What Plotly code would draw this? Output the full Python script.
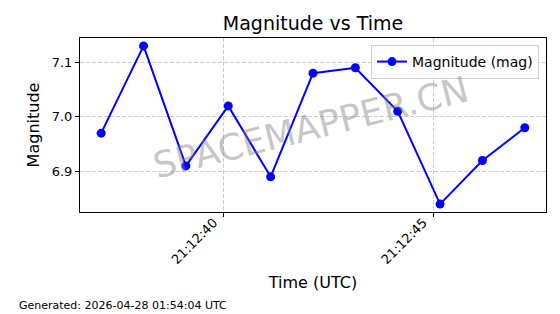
import pandas as pd
import plotly.graph_objects as go

times = ["2026-04-27 21:12:37.08", "2026-04-27 21:12:38.09", "2026-04-27 21:12:39.10",
         "2026-04-27 21:12:40.11", "2026-04-27 21:12:41.12", "2026-04-27 21:12:42.13",
         "2026-04-27 21:12:43.14", "2026-04-27 21:12:44.15", "2026-04-27 21:12:45.16",
         "2026-04-27 21:12:46.17", "2026-04-27 21:12:47.18"]
magnitudes = [6.97, 7.13, 6.91, 7.02, 6.89, 7.08, 7.09, 7.01, 6.84, 6.92, 6.98]
x_ticks = ["2026-04-27 21:12:40", "2026-04-27 21:12:45"]
x_tick_labels = ["21:12:40", "21:12:45"]
y_ticks = [6.9, 7.0, 7.1]
y_tick_labels = ["6.9", "7.0", "7.1"]

t = pd.to_datetime(times)
span = t.max() - t.min()
xr = [t.min() - span * 0.05, t.max() + span * 0.05]
ymin, ymax = min(magnitudes), max(magnitudes)
yr = [ymin - (ymax - ymin) * 0.05, ymax + (ymax - ymin) * 0.05]

FONT = "DejaVu Sans"
L, R, T, B = 80, 546, 38, 212  # plot area in pixels
PW, PH = R - L, B - T

fig = go.Figure()
fig.add_trace(go.Scatter(
    x=t, y=magnitudes, mode="lines+markers", name="Magnitude (mag)",
    line=dict(color="#0000ff", width=2),
    marker=dict(color="#0000ff", size=9),
))

fig.update_layout(
    width=560, height=314,
    margin=dict(l=L, r=560 - R, t=T, b=314 - B),
    paper_bgcolor="white", plot_bgcolor="white",
    font=dict(family=FONT, color="black", size=13),
    title=dict(text="Magnitude vs Time", x=(L + R) / 2 / 560, xanchor="center",
               y=1 - 23 / 314, yanchor="middle", font=dict(size=19, family=FONT)),
    showlegend=True,
    legend=dict(x=0.985, y=0.96, xanchor="right", yanchor="top", itemwidth=30,
                bgcolor="rgba(255,255,255,0.8)", bordercolor="#cccccc", borderwidth=1,
                font=dict(size=14, family=FONT)),
    xaxis=dict(
        type="date", range=xr, tickvals=pd.to_datetime(x_ticks), ticktext=x_tick_labels,
        tickangle=-45, ticks="outside", ticklen=4, tickcolor="black",
        ticklabelshift=-10, ticklabelstandoff=-7,
        showline=True, linecolor="black", linewidth=1, mirror=True,
        showgrid=True, gridcolor="#cccccc", griddash="4px,2px", gridwidth=1,
        zeroline=False, tickfont=dict(size=13),
        title=dict(text="Time (UTC)", font=dict(size=16), standoff=10),
    ),
    yaxis=dict(
        range=yr, tickvals=y_ticks, ticktext=y_tick_labels,
        ticks="outside", ticklen=4, tickcolor="black",
        showline=True, linecolor="black", linewidth=1, mirror=True,
        showgrid=True, gridcolor="#cccccc", griddash="4px,2px", gridwidth=1,
        zeroline=False, tickfont=dict(size=13),
        title=dict(text="Magnitude", font=dict(size=16), standoff=8),
    ),
)

fig.add_annotation(text="SPACEMAPPER.CN", xref="paper", yref="paper",
                   x=(310 - L) / PW, y=(B - 127) / PH, showarrow=False, textangle=-14,
                   font=dict(size=36, family=FONT, color="rgba(128,128,128,0.45)"))
fig.add_annotation(text="Generated: 2026-04-28 01:54:04 UTC", xref="paper", yref="paper",
                   x=(17 - L) / PW, y=(B - 305) / PH, xanchor="left", yanchor="middle",
                   showarrow=False, font=dict(size=11, family=FONT, color="black"))

fig.write_html("out.html")
